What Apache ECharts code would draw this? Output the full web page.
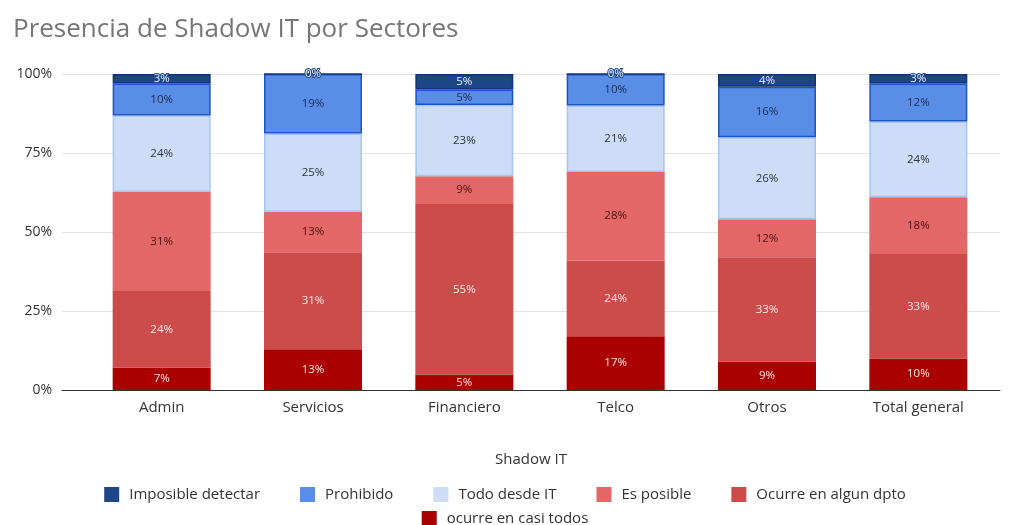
<!DOCTYPE html>
<html>
<head>
<meta charset="utf-8">
<script src="https://cdn.jsdelivr.net/npm/echarts@6/dist/echarts.min.js"></script>
<style>
  html, body { margin: 0; padding: 0; background: #fff; }
  #chart { width: 1010px; height: 525px; }
</style>
</head>
<body>
<div id="chart"></div>
<script>
// Sectors on the x axis
const categories = ['Admin', 'Servicios', 'Financiero', 'Telco', 'Otros', 'Total general'];

// Share (%) of each answer per sector
const imposibleDetectar = [3, 0, 5, 0, 4, 3];
const prohibido         = [10, 19, 5, 10, 16, 12];
const todoDesdeIT       = [24, 25, 23, 21, 26, 24];
const esPosible         = [31, 13, 9, 28, 12, 18];
const ocurreAlgunDpto   = [24, 31, 55, 24, 33, 33];
const ocurreCasiTodos   = [7, 13, 5, 17, 9, 10];

const yTicks = [0, 25, 50, 75, 100];

// Stack order, bottom to top
const stackSeries = [
  { name: 'ocurre en casi todos', data: ocurreCasiTodos, color: '#ab0000', border: '#ab0000', label: '#ffe9e6' },
  { name: 'Ocurre en algun dpto', data: ocurreAlgunDpto, color: '#cc4b4b', border: '#cc4b4b', label: '#ffe9e6' },
  { name: 'Es posible', data: esPosible, color: '#e36767', border: '#e36767', label: '#4a1212' },
  { name: 'Todo desde IT', data: todoDesdeIT, color: '#cddcf7', border: '#a8c4f2', label: '#2b3440' },
  { name: 'Prohibido', data: prohibido, color: '#5a8ee6', border: '#1a55c8', label: '#1a2a55' },
  { name: 'Imposible detectar', data: imposibleDetectar, color: '#1d4688', border: '#123470', label: '#e8efff', halo: '#1d4688' }
];

// Each column is shown as a 100% stack
const totals = categories.map((_, i) => stackSeries.reduce((s, d) => s + d.data[i], 0));

const series = stackSeries.map(s => ({
  name: s.name,
  type: 'bar',
  stack: 'shadow',
  xAxisIndex: 1,
  yAxisIndex: 1,
  barWidth: 98,
  itemStyle: { color: s.color, borderColor: s.border, borderWidth: 1.5 },
  label: {
    show: true,
    position: 'inside',
    fontFamily: 'Open Sans',
    fontSize: 11.5,
    color: s.label,
    textBorderColor: s.halo || 'transparent',
    textBorderWidth: s.halo ? 2 : 0,
    formatter: p => s.data[p.dataIndex] + '%'
  },
  data: s.data.map((v, i) => v / totals[i] * 100)
}));

const legendText = { fontFamily: 'Open Sans', fontSize: 15, color: '#333', padding: [0, 0, 0, 5] };

const chart = echarts.init(document.getElementById('chart'));
chart.setOption({
  animation: false,
  title: {
    text: 'Presencia de Shadow IT por Sectores',
    left: 8,
    top: 12,
    textStyle: { fontFamily: 'Open Sans', fontSize: 26, fontWeight: 'normal', color: '#767676' }
  },
  legend: [
    {
      data: ['Imposible detectar', 'Prohibido', 'Todo desde IT', 'Es posible', 'Ocurre en algun dpto'],
      left: 'center',
      top: 482,
      itemWidth: 15,
      itemHeight: 15,
      itemGap: 40,
      icon: 'rect',
      itemStyle: { borderWidth: 0 },
      textStyle: legendText
    },
    {
      data: ['ocurre en casi todos'],
      left: 'center',
      top: 506,
      itemWidth: 15,
      itemHeight: 15,
      icon: 'rect',
      itemStyle: { borderWidth: 0 },
      textStyle: legendText
    }
  ],
  grid: [
    { left: 62, right: 10, top: 74, bottom: 135 },
    { left: 86, right: 16, top: 74, bottom: 135 }
  ],
  xAxis: [
    {
      type: 'category',
      gridIndex: 0,
      data: categories,
      axisLine: { show: true, lineStyle: { color: '#333', width: 1 } },
      axisTick: { show: false },
      axisLabel: { show: false },
      name: 'Shadow IT',
      nameLocation: 'middle',
      nameGap: 62,
      nameTextStyle: { fontFamily: 'Open Sans', fontSize: 15, color: '#333' }
    },
    {
      type: 'category',
      gridIndex: 1,
      data: categories,
      axisLine: { show: false },
      axisTick: { show: false },
      axisLabel: { fontFamily: 'Open Sans', fontSize: 15, color: '#333', margin: 10 }
    }
  ],
  yAxis: [
    {
      type: 'value',
      gridIndex: 0,
      min: 0,
      max: 100,
      interval: 25,
      axisLine: { show: false },
      axisTick: { show: false },
      axisLabel: {
        fontFamily: 'Open Sans', fontSize: 14, color: '#333', margin: 10,
        formatter: v => yTicks.includes(v) ? v + '%' : ''
      },
      splitLine: { lineStyle: { color: '#e3e3e3', width: 1 } }
    },
    {
      type: 'value',
      gridIndex: 1,
      min: 0,
      max: 100,
      interval: 25,
      show: false,
      splitLine: { show: false }
    }
  ],
  series: series
});
</script>
</body>
</html>
